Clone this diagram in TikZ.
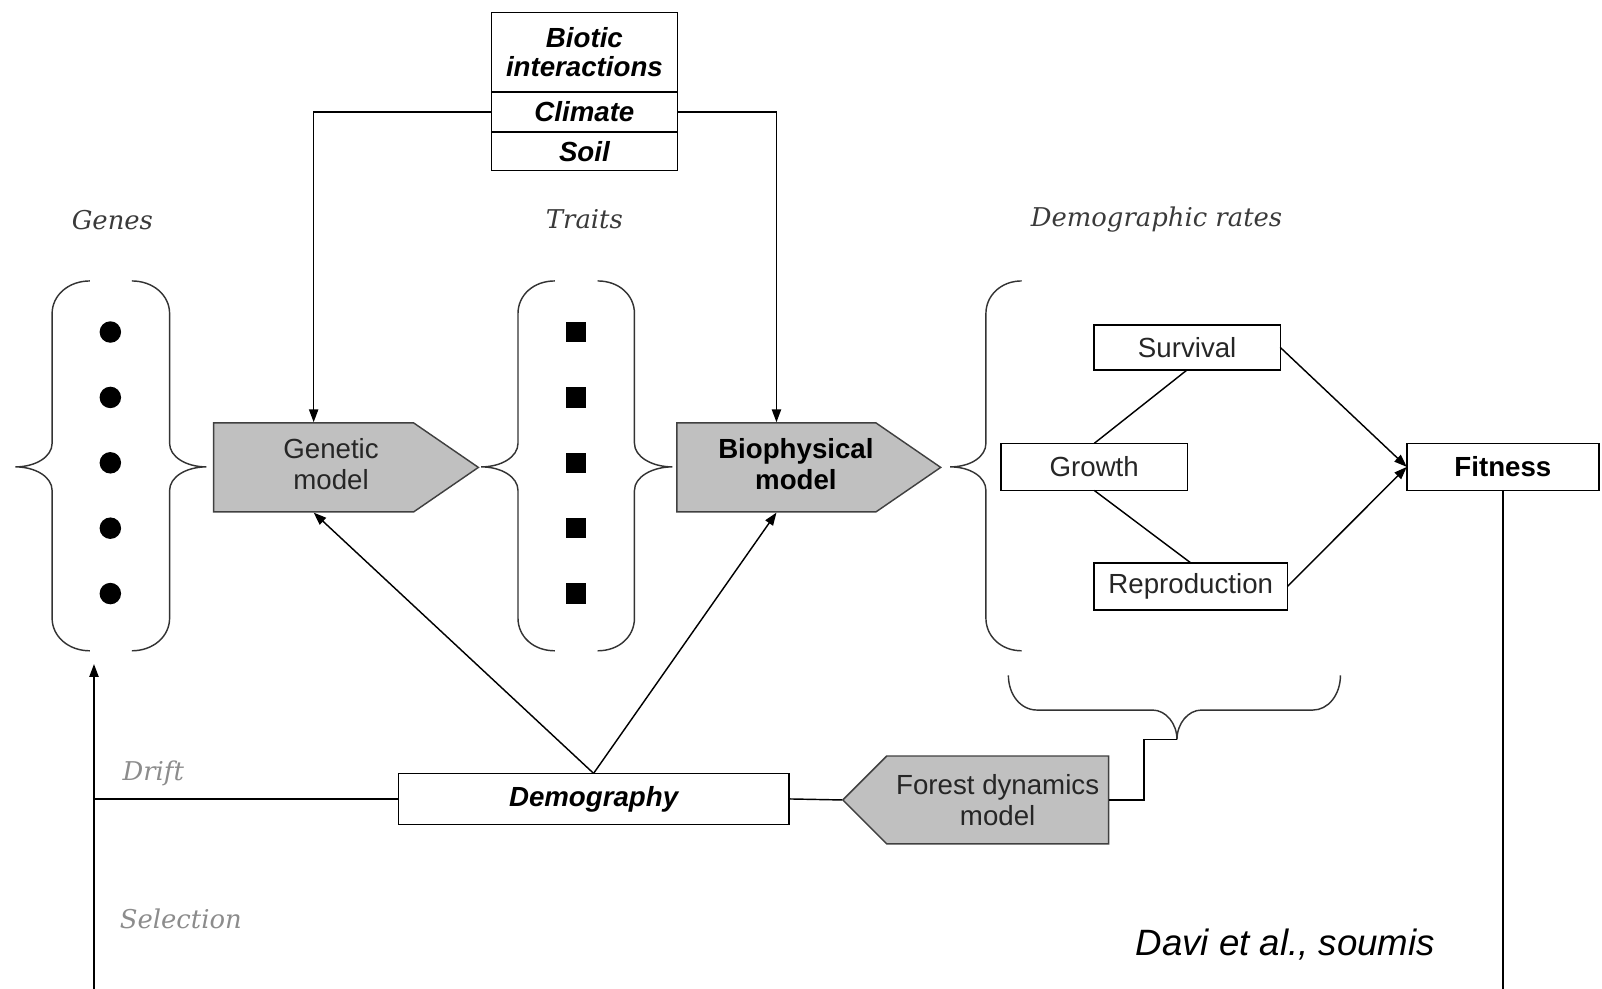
\documentclass[tikz,border=0pt]{standalone}
\usepackage{fontspec}
\setmainfont{Liberation Sans}
\newfontfamily\labfont{DejaVu Serif}
\usetikzlibrary{shapes.symbols,arrows.meta,positioning}

\definecolor{modelgray}{HTML}{C0C0C0}
\definecolor{edgegray}{HTML}{404040}
\definecolor{labgray}{HTML}{3A3A3A}
\definecolor{driftgray}{HTML}{8C8C8C}

\begin{document}
\begin{tikzpicture}[x=0.01cm, y=-0.01cm, >={Triangle[length=1.25mm,width=0.9mm]},
    every node/.style={font=\fontsize{7.7}{8.6}\selectfont},
    rbox/.style={draw, inner sep=0pt, outer sep=0pt, align=center, text=black!85},
    model/.style={shape=signal, draw=edgegray, fill=modelgray, inner sep=0pt, align=center, text=black!85},
    lbl/.style={font=\labfont\itshape\fontsize{7.2}{8}\selectfont, text=labgray},
    brc/.style={draw=black!80}]
    \useasboundingbox (0,0) rectangle (1568,968);

    % environment box
    \node[rbox, minimum width=1.82cm, minimum height=0.78cm, font=\bfseries\itshape\fontsize{7.7}{8.3}\selectfont, text=black] (biotic) at (572,51) {Biotic\\interactions};
    \node[rbox, minimum width=1.82cm, minimum height=0.39cm, font=\bfseries\itshape\fontsize{7.7}{8.3}\selectfont, text=black, below=0pt of biotic] (climate) {Climate};
    \node[rbox, minimum width=1.82cm, minimum height=0.38cm, font=\bfseries\itshape\fontsize{7.7}{8.3}\selectfont, text=black, below=0pt of climate] (soil) {Soil};

    % column titles
    \node[lbl] (genes) at (110,215) {Genes};
    \node[lbl] (traits) at (572,215) {Traits};
    \node[lbl] (demrates) at (1132,215) {Demographic rates};

    % genes
    \draw[brc] (88,275) .. controls (67,275) and (51,289) .. (51,307) -- (51,434) .. controls (51,447) and (35,457) .. (15,457) .. controls (35,457) and (51,467) .. (51,480) -- (51,605) .. controls (51,623) and (67,637) .. (88,637);
    \draw[brc] (129,275) .. controls (150,275) and (166,289) .. (166,307) -- (166,434) .. controls (166,447) and (182,457) .. (202,457) .. controls (182,457) and (166,467) .. (166,480) -- (166,605) .. controls (166,623) and (150,637) .. (129,637);
    \fill (108,325) circle (1.05mm);
    \fill (108,389) circle (1.05mm);
    \fill (108,453) circle (1.05mm);
    \fill (108,517) circle (1.05mm);
    \fill (108,581) circle (1.05mm);

    % traits
    \draw[brc] (543,275) .. controls (522,275) and (507,289) .. (507,307) -- (507,434) .. controls (507,447) and (491,457) .. (471,457) .. controls (491,457) and (507,467) .. (507,480) -- (507,605) .. controls (507,623) and (522,637) .. (543,637);
    \draw[brc] (585,275) .. controls (606,275) and (621,289) .. (621,307) -- (621,434) .. controls (621,447) and (638,457) .. (658,457) .. controls (638,457) and (621,467) .. (621,480) -- (621,605) .. controls (621,623) and (606,637) .. (585,637);
    \fill (554,315) rectangle (574,335);
    \fill (554,379) rectangle (574,399);
    \fill (554,443) rectangle (574,463);
    \fill (554,507) rectangle (574,527);
    \fill (554,571) rectangle (574,591);

    % demographic rates
    \draw[brc] (1000,275) .. controls (980,275) and (965,289) .. (965,307) -- (965,434) .. controls (965,447) and (950,457) .. (930,457) .. controls (950,457) and (965,467) .. (965,480) -- (965,605) .. controls (965,623) and (980,637) .. (1000,637);
    \draw[brc] (987,661) .. controls (987,680) and (999,695) .. (1015,695) -- (1128,695) .. controls (1141,695) and (1152,708) .. (1152,724) .. controls (1152,708) and (1163,695) .. (1176,695) -- (1285,695) .. controls (1300,695) and (1312,680) .. (1312,661);

    % models
    \node[model, minimum width=2.59cm, minimum height=0.87cm, signal pointer angle=69] (genmod) at (307,457.5) {\hspace*{0.34cm}\begin{tabular}{@{}c@{}}Genetic\\model\end{tabular}};
    \node[model, minimum width=2.58cm, minimum height=0.87cm, signal pointer angle=69, font=\bfseries\fontsize{7.7}{8.6}\selectfont, text=black] (biomod) at (760,457.5) {\hspace*{0.38cm}\begin{tabular}{@{}c@{}}Biophysical\\model\end{tabular}};
    \node[model, signal to=west, signal pointer angle=90, minimum width=2.6cm, minimum height=0.86cm] (forest) at (976.5,783) {Forest dynamics\\model};

    \node[rbox, minimum width=3.82cm, minimum height=0.5cm, font=\bfseries\itshape\fontsize{7.7}{8.6}\selectfont, text=black] (demog) at (581,782) {Demography};
    \node[rbox, minimum width=1.82cm, minimum height=0.44cm] (surv) at (1162,340) {Survival};
    \node[rbox, minimum width=1.82cm, minimum height=0.46cm] (grow) at (1071,457) {Growth};
    \node[rbox, minimum width=1.89cm, minimum height=0.46cm] (repro) at (1165.5,574) {Reproduction};
    \node[rbox, minimum width=1.88cm, minimum height=0.46cm, font=\bfseries\fontsize{7.7}{8.6}\selectfont, text=black] (fit) at (1471,457) {Fitness};

    \node[lbl, text=driftgray] (drift) at (150,757) {Drift};
    \node[lbl, text=driftgray] (select) at (177,899) {Selection};
    \node[font=\itshape\fontsize{10.2}{12}\selectfont] (davi) at (1258,925) {Davi et al., soumis};

    \coordinate (selL) at (92,968);
    \coordinate (genesB) at (92,650);
    \coordinate (fdtip) at (1152,724);

    \draw[->] (climate.west) -| (genmod.north);
    \draw[->] (climate.east) -| (biomod.north);
    \draw[->] (demog.north) -- (genmod.south);
    \draw[->] (demog.north) -- (biomod.south);
    \draw (surv.south) -- (grow.north);
    \draw (grow.south) -- (repro.north);
    \draw[->] (surv.east) -- (fit.west);
    \draw[->] (repro.east) -- (fit.west);
    \draw (fit.south) -- (fit.south |- selL);
    \draw[->] (selL) -- (genesB);
    \draw (demog.west) -- (demog.west -| selL);
    \draw (demog.east) -- (forest.west);
    \draw (forest.east) -- ++(34,0) |- (fdtip);
\end{tikzpicture}
\end{document}
